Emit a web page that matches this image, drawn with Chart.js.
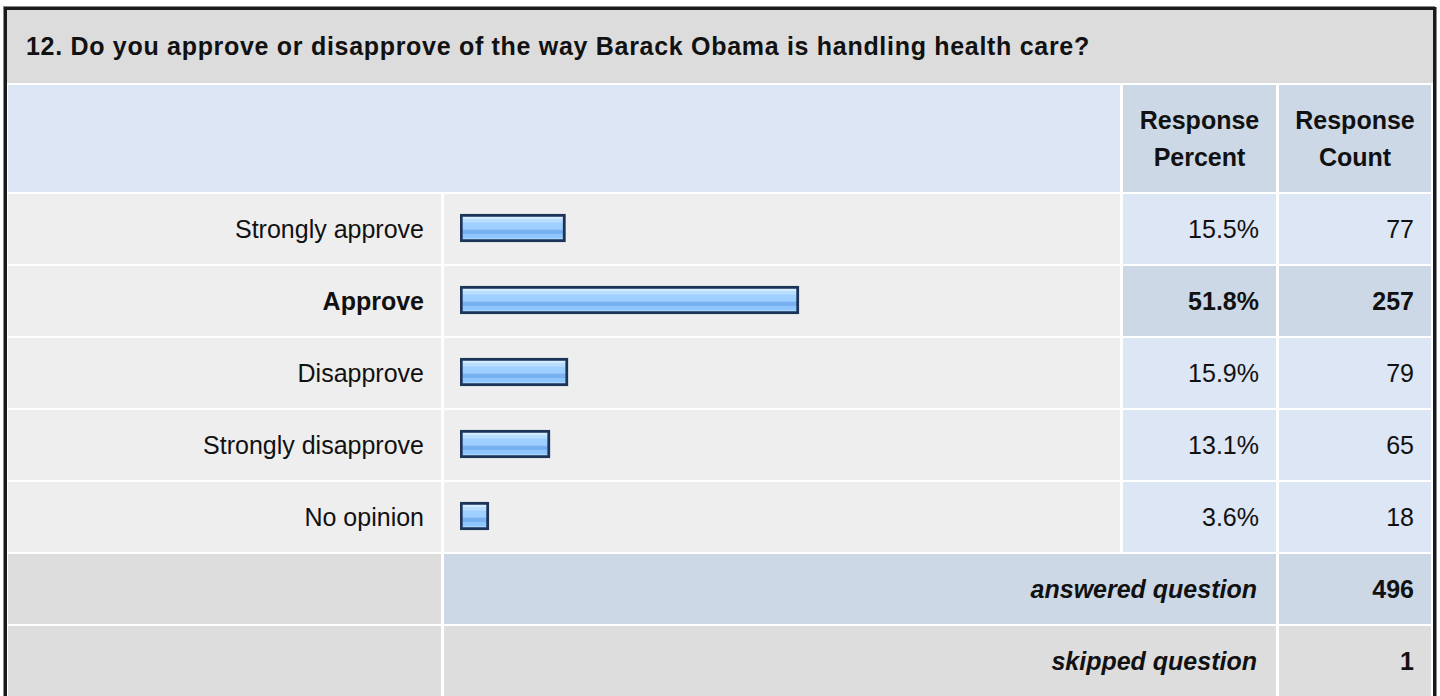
<!DOCTYPE html>
<html>
<head>
<meta charset="utf-8">
<script src="https://cdn.jsdelivr.net/npm/chart.js@4/dist/chart.umd.min.js"></script>
<style>
  body { margin: 0; background: #fff; font-family: "Liberation Sans", Arial, sans-serif; color: #111; overflow: hidden; }
  #frame { position: absolute; left: 4px; top: 7px; width: 1426px; height: 700px; border: 3px solid #1a1a1a; border-bottom: none; box-shadow: -1px -1px 0 #888, 1px 0 0 #888; }
  .cell { position: absolute; display: flex; align-items: center; box-sizing: border-box; font-size: 25px; white-space: nowrap; }
  .right { justify-content: flex-end; padding-right: 17px; }
  .center { justify-content: center; text-align: center; line-height: 37px; font-weight: bold; }
  .bold { font-weight: bold; }
  .ital { font-style: italic; font-weight: bold; }
  #barWrap { position: absolute; left: 444px; top: 192px; width: 676px; height: 360px; }
</style>
</head>
<body>
<div id="frame"></div>
<div id="barWrap"><canvas id="barChart"></canvas></div>
<script>
// Survey data
const question = "12. Do you approve or disapprove of the way Barack Obama is handling health care?";
const categories = ["Strongly approve", "Approve", "Disapprove", "Strongly disapprove", "No opinion"];
const percents = [15.5, 51.8, 15.9, 13.1, 3.6];
const counts = [77, 257, 79, 65, 18];
const answeredCount = 496;
const skippedCount = 1;

// colours
const GRAY_TITLE = "#dcdcdc";
const GRAY_ROW = "#eeeeee";
const BLUE_LIGHT = "#dce6f4";
const BLUE_DARK = "#ccd8e6";

function addCell(x, y, w, h, bg, html, cls) {
  const d = document.createElement("div");
  d.className = "cell " + (cls || "");
  d.style.left = x + "px";
  d.style.top = y + "px";
  d.style.width = w + "px";
  d.style.height = h + "px";
  d.style.background = bg;
  d.innerHTML = html || "";
  document.body.insertBefore(d, document.getElementById("barWrap"));
  return d;
}

// title row
const t = addCell(7, 10, 1426, 73, GRAY_TITLE, question, "bold");
t.style.paddingLeft = "19px";
t.style.letterSpacing = "0.7px";

// header row
addCell(8, 85, 1112, 107, BLUE_LIGHT, "");
addCell(1123, 85, 153, 107, BLUE_DARK, "Response<br>Percent", "center");
addCell(1279, 85, 152, 107, BLUE_DARK, "Response<br>Count", "center");

// answer rows
const topIdx = percents.indexOf(Math.max(...percents));
categories.forEach((c, i) => {
  const y = 194 + i * 72;
  const strong = i === topIdx ? " bold" : "";
  const valBg = i === topIdx ? BLUE_DARK : BLUE_LIGHT;
  addCell(8, y, 433, 70, GRAY_ROW, c, "right" + strong);
  addCell(444, y, 676, 70, GRAY_ROW, "");
  addCell(1123, y, 153, 70, valBg, percents[i].toFixed(1) + "%", "right" + strong);
  addCell(1279, y, 152, 70, valBg, counts[i], "right" + strong);
});

// footer rows
addCell(8, 554, 433, 70, "#dddddd", "");
addCell(444, 554, 832, 70, BLUE_DARK, "answered question", "right ital").style.paddingRight = "19px";
addCell(1279, 554, 152, 70, BLUE_DARK, answeredCount, "right bold");
addCell(8, 626, 433, 70, "#dddddd", "");
addCell(444, 626, 832, 70, "#dddddd", "skipped question", "right ital").style.paddingRight = "19px";
addCell(1279, 626, 152, 70, "#dddddd", skippedCount, "right bold");

// glossy bar fill
function barFill(ctx) {
  const chart = ctx.chart;
  if (!chart.chartArea || !chart.scales.y) return "#99ccff";
  const yc = chart.scales.y.getPixelForValue(ctx.dataIndex);
  const g = chart.ctx.createLinearGradient(0, yc - 14, 0, yc + 14);
  g.addColorStop(0.0, "#d4ebff");
  g.addColorStop(0.18, "#d4ebff");
  g.addColorStop(0.19, "#b9ddff");
  g.addColorStop(0.30, "#b9ddff");
  g.addColorStop(0.31, "#9fcfff");
  g.addColorStop(0.55, "#9fcfff");
  g.addColorStop(0.56, "#78b0f0");
  g.addColorStop(0.71, "#78b0f0");
  g.addColorStop(0.72, "#8ec5fc");
  g.addColorStop(0.86, "#8ec5fc");
  g.addColorStop(0.87, "#a8d6ff");
  g.addColorStop(1.0, "#a8d6ff");
  return g;
}

const chart = new Chart(document.getElementById("barChart").getContext("2d"), {
  type: "bar",
  data: {
    labels: categories,
    datasets: [{
      data: percents,
      base: -0.9,
      barThickness: 28,
      borderWidth: 3,
      borderColor: "#1c3458",
      borderSkipped: false,
      backgroundColor: barFill
    }]
  },
  options: {
    indexAxis: "y",
    responsive: true,
    maintainAspectRatio: false,
    animation: false,
    layout: { padding: { left: 16, right: 11, top: 0, bottom: 0 } },
    scales: {
      x: { display: false, min: -0.9, max: 100 },
      y: { display: false }
    },
    plugins: {
      legend: { display: false },
      tooltip: { enabled: false }
    }
  }
});
</script>
</body>
</html>
